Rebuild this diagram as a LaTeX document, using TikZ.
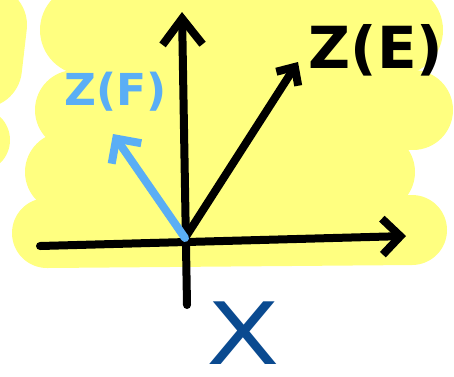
\documentclass[tikz,border=0pt]{standalone}
\usepackage{fontspec}
\setmainfont{DejaVu Sans}
\usetikzlibrary{arrows.meta}
\definecolor{hl}{RGB}{255,255,128}
\definecolor{lblue}{RGB}{90,174,245}
\definecolor{dblue}{RGB}{10,74,144}
\begin{document}
\begin{tikzpicture}[x=1pt,y=-1pt,
  hlstroke/.style={hl, line width=80pt, line cap=round},
  pen/.style={line width=8pt, line cap=round, line join=round},
  label/.style={inner sep=0pt, font=\bfseries}]
\useasboundingbox (0,0) rectangle (454,376);
\fill[white] (0,0) rectangle (454,376);
% highlighter, left blob
\draw[hlstroke, line width=80pt] (-13,25) -- (-18,68);
\draw[hlstroke, line width=64pt] (-40,140) -- (-22,140);
% highlighter, main blob
\draw[hlstroke, line width=90pt] (85,30) -- (398,30);
\draw[hlstroke] (75,110) -- (413,110);
\draw[hlstroke] (65,172) -- (375,172);
\draw[hlstroke, line width=70pt] (47,233) -- (412,230);
% coordinates
\coordinate (O) at (185,238);
\coordinate (ytop) at (182,12);
\coordinate (ybot) at (187,305);
\coordinate (xl) at (40,246);
\coordinate (xr) at (406,236);
\coordinate (E) at (298,62);
\coordinate (F) at (113,134);
% axes
\draw[pen, -{Straight Barb[length=26pt,width=40pt]}] (ybot) -- (ytop);
\draw[pen, -{Straight Barb[length=18pt,width=36pt]}] (xl) -- (xr);
\draw[pen, -{Straight Barb[length=14pt,width=26pt]}] (O) -- (E);
\draw[pen, lblue, -{Straight Barb[length=18pt,width=36pt]}] (O) -- (F);
% labels
\node[label, font=\bfseries\fontsize{58}{58}\selectfont] (lE) at (376,50) {Z(E)};
\node[label, lblue, font=\bfseries\fontsize{44}{44}\selectfont] (lF) at (116,92) {Z(F)};
\node[label, dblue, font=\fontsize{86}{86}\selectfont] (lX) at (243,333) {\scalebox{1.25}[1]{X}};
\end{tikzpicture}
\end{document}
